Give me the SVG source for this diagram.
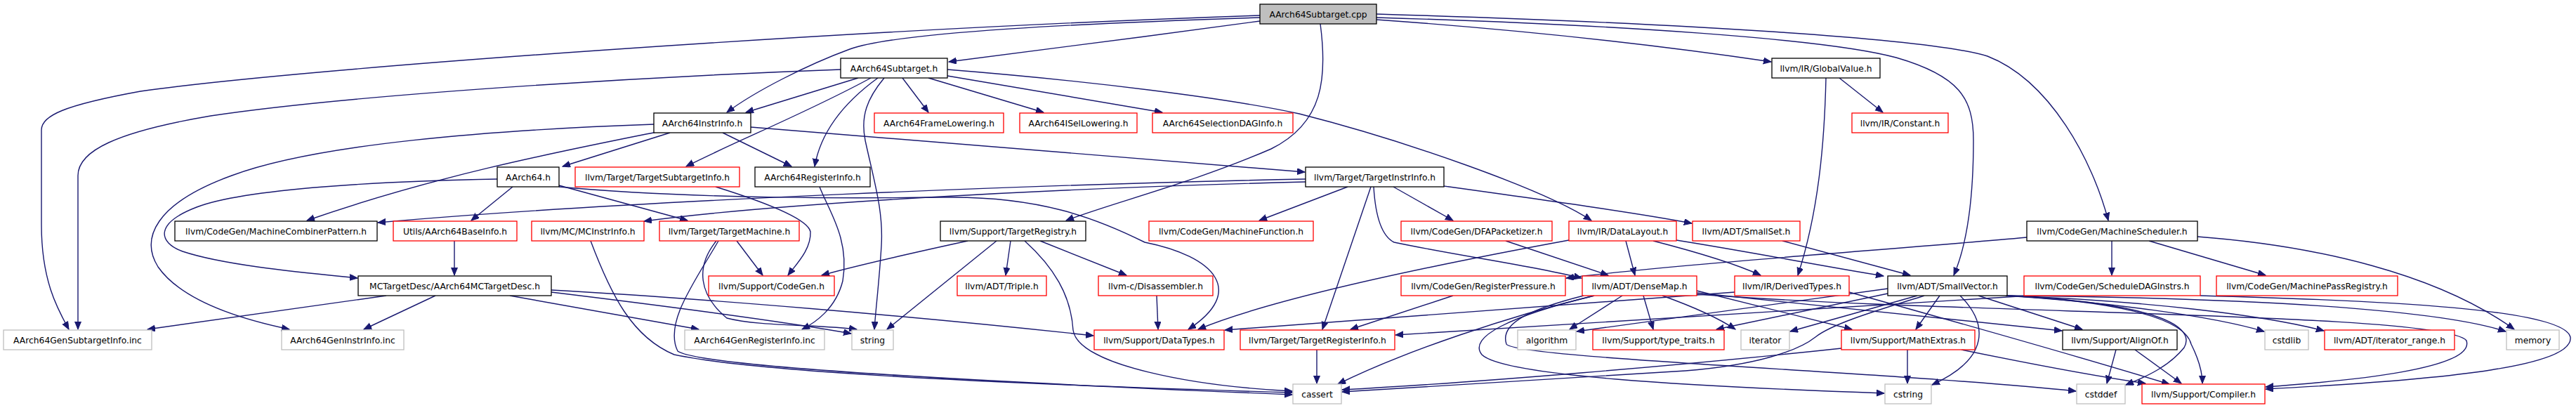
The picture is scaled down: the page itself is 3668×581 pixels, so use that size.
<svg xmlns="http://www.w3.org/2000/svg" width="3668" height="581" viewBox="0 0 3668 581">
<style>
rect{fill:#fff;stroke:#000;stroke-width:1.3}
.r rect{stroke:#ff0000}
.g rect{stroke:#bfbfbf}
.root rect{fill:#bfbfbf;stroke:#000}
text{font-family:"DejaVu Sans","Liberation Sans",sans-serif;font-size:12.3px;text-anchor:middle;fill:#000}
#edges path{fill:none;stroke:#191970;stroke-width:1.4;marker-end:url(#a)}
</style>
<defs>
<marker id="a" markerUnits="userSpaceOnUse" markerWidth="12" markerHeight="10" refX="11" refY="4.5" orient="auto"><path d="M0,0 L11,4.5 L0,9 z" fill="#191970" stroke="#191970" stroke-width="1"/></marker>
</defs>
<rect x="0" y="0" width="3668" height="581" style="fill:#fff;stroke:none"/>
<g id="edges">
<path d="M1794,30 C1650,50 1450,75 1351,88"/>
<path d="M1794,25 C1550,33 1280,45 1210,70 C1150,92 1075,130 1035,160"/>
<path d="M1794,22 C1200,42 420,98 200,130 C90,150 59,165 59,185 L59,320 C59,400 82,440 98,469"/>
<path d="M1197,99 C900,110 500,135 300,165 C165,188 111,215 111,250 L111,469"/>
<path d="M931,177 C700,185 450,205 330,250 C220,290 200,340 225,380 C260,430 345,455 412,469"/>
<path d="M708,255 C550,258 350,268 280,295 C220,318 225,345 260,358 C320,378 430,388 509,396"/>
<path d="M935,188 C800,215 620,250 437,314"/>
<path d="M954,189 L801,237"/>
<path d="M1029,189 L1127,237"/>
<path d="M1069,181 L1858,245"/>
<path d="M1222,111 L1062,160"/>
<path d="M1240,111 C1150,160 1050,200 977,237"/>
<path d="M1250,111 C1210,140 1170,180 1160,237"/>
<path d="M1285,111 L1322,160"/>
<path d="M1322,111 L1486,160"/>
<path d="M1349,108 L1655,160"/>
<path d="M1349,99 C1550,115 1750,140 1850,162 C2000,200 2200,270 2266,314"/>
<path d="M1259,111 C1235,140 1225,165 1232,200 C1245,260 1258,300 1255,350 C1252,400 1247,440 1245,469"/>
<path d="M1880,34 C1890,110 1885,175 1810,212 C1700,260 1580,290 1518,314"/>
<path d="M1960,28 C2200,45 2400,70 2522,88"/>
<path d="M1960,25 C2300,35 2600,55 2700,82 C2790,108 2810,140 2810,200 C2810,290 2800,350 2782,392"/>
<path d="M1960,20 C2400,33 2750,55 2830,80 C2920,115 2980,230 3002,314"/>
<path d="M730,266 L671,314"/>
<path d="M796,264 L979,314"/>
<path d="M796,266 C1000,285 1250,282 1350,281 C1480,280 1560,310 1630,345 C1730,365 1775,415 1692,469"/>
<path d="M1019,266 C1080,285 1150,310 1154,330 C1155,355 1135,375 1122,392"/>
<path d="M1167,266 C1180,300 1210,340 1200,400 C1190,440 1160,460 1142,469"/>
<path d="M1859,255 C1500,262 900,285 538,317"/>
<path d="M1859,259 C1500,268 1100,290 917,315"/>
<path d="M1919,266 L1793,314"/>
<path d="M1952,266 L1883,469"/>
<path d="M1956,266 C1958,300 1965,335 1985,345 C2080,365 2180,378 2252,396"/>
<path d="M1984,266 L2069,314"/>
<path d="M2056,265 C2200,285 2330,303 2409,318"/>
<path d="M2619,111 L2681,160"/>
<path d="M2600,111 C2598,200 2590,300 2560,392"/>
<path d="M647,343 L647,392"/>
<path d="M550,421 L210,469"/>
<path d="M620,421 L518,469"/>
<path d="M726,421 L995,469"/>
<path d="M785,416 C900,430 1100,455 1212,475"/>
<path d="M785,413 C1000,425 1300,450 1557,478"/>
<path d="M841,343 C870,420 900,480 960,505 C1100,535 1600,552 1840,559"/>
<path d="M1023,343 C990,400 945,460 965,500 C1000,525 1500,548 1840,562"/>
<path d="M1020,343 C990,380 995,420 1035,453 C1080,465 1170,462 1220,469"/>
<path d="M1049,343 L1086,392"/>
<path d="M1378,343 C1300,360 1220,378 1170,392"/>
<path d="M1439,343 L1432,392"/>
<path d="M1481,343 L1604,392"/>
<path d="M1419,343 L1263,469"/>
<path d="M1459,343 C1500,380 1525,420 1528,470 C1535,520 1700,550 1840,557"/>
<path d="M1647,421 L1649,469"/>
<path d="M2234,342 C2000,385 1800,430 1706,469"/>
<path d="M2315,343 L2328,392"/>
<path d="M2354,343 C2420,360 2470,375 2507,392"/>
<path d="M2387,342 C2500,360 2600,380 2682,393"/>
<path d="M2144,343 L2290,392"/>
<path d="M2538,343 L2720,392"/>
<path d="M2886,338 C2700,355 2400,375 2230,396"/>
<path d="M3007,343 L3007,392"/>
<path d="M3060,343 L3226,392"/>
<path d="M3129,337 C3300,350 3470,390 3580,469"/>
<path d="M2069,421 L1923,469"/>
<path d="M1875,498 L1875,546"/>
<path d="M2310,421 L2235,469"/>
<path d="M2340,421 L2354,469"/>
<path d="M2270,421 C2150,450 2000,500 1905,547"/>
<path d="M2367,421 C2420,440 2450,455 2471,469"/>
<path d="M2416,414 L2637,469"/>
<path d="M2416,417 L2936,471"/>
<path d="M2270,421 C2150,450 2090,480 2110,505 C2140,535 2400,550 2683,560"/>
<path d="M2255,421 C2180,440 2135,460 2145,490 C2155,510 2700,530 2956,557"/>
<path d="M2470,416 L1744,470"/>
<path d="M2633,416 C2820,468 3000,520 3089,547"/>
<path d="M2688,411 L2245,472"/>
<path d="M2688,418 L2444,469"/>
<path d="M2730,421 L2549,472"/>
<path d="M2762,421 L2728,469"/>
<path d="M2791,421 C2830,460 2835,510 2751,548"/>
<path d="M2817,421 L2965,469"/>
<path d="M2740,421 C2680,440 2610,460 2585,480 C2560,500 2500,520 2400,528 C2200,540 2000,552 1911,558"/>
<path d="M2622,496 C2400,520 2100,545 1911,555"/>
<path d="M2856,421 C3000,430 3150,450 3224,472"/>
<path d="M2856,421 C3050,428 3220,448 3309,471"/>
<path d="M2856,421 C3200,424 3470,440 3568,472"/>
<path d="M2856,421 C3000,428 3110,450 3120,490 C3130,510 3136,530 3136,546"/>
<path d="M2856,421 C3050,430 3130,460 3110,495 C3090,520 3060,535 3027,548"/>
<path d="M3013,498 L3000,546"/>
<path d="M3040,498 L3106,546"/>
<path d="M2716,498 L2716,546"/>
<path d="M2793,498 C2900,520 3000,538 3055,546"/>
<path d="M2416,419 C2800,448 3480,445 3512,485 C3525,525 3350,542 3226,551"/>
<path d="M3133,421 C3400,428 3650,440 3660,480 C3665,520 3500,540 3226,554"/>
<path d="M2890,421 L1987,477"/>
</g>
<g id="n0" class="root"><rect x="1794" y="6" width="166" height="28"/><text x="1877" y="24.5">AArch64Subtarget.cpp</text></g>
<g id="n1"><rect x="1197" y="83" width="152" height="28"/><text x="1273" y="101.5">AArch64Subtarget.h</text></g>
<g id="n2"><rect x="2523" y="83" width="154" height="28"/><text x="2600" y="101.5">llvm/IR/GlobalValue.h</text></g>
<g id="n3"><rect x="931" y="161" width="138" height="28"/><text x="1000" y="179.5">AArch64InstrInfo.h</text></g>
<g id="n4" class="r"><rect x="1245" y="161" width="184" height="28"/><text x="1337" y="179.5">AArch64FrameLowering.h</text></g>
<g id="n5" class="r"><rect x="1452" y="161" width="167" height="28"/><text x="1535.5" y="179.5">AArch64ISelLowering.h</text></g>
<g id="n6" class="r"><rect x="1641" y="161" width="200" height="28"/><text x="1741" y="179.5">AArch64SelectionDAGInfo.h</text></g>
<g id="n7" class="r"><rect x="2637" y="161" width="137" height="28"/><text x="2705.5" y="179.5">llvm/IR/Constant.h</text></g>
<g id="n8"><rect x="708" y="238" width="88" height="28"/><text x="752" y="256.5">AArch64.h</text></g>
<g id="n9" class="r"><rect x="819" y="238" width="234" height="28"/><text x="936" y="256.5">llvm/Target/TargetSubtargetInfo.h</text></g>
<g id="n10"><rect x="1075" y="238" width="164" height="28"/><text x="1157" y="256.5">AArch64RegisterInfo.h</text></g>
<g id="n11"><rect x="1859" y="238" width="197" height="28"/><text x="1957.5" y="256.5">llvm/Target/TargetInstrInfo.h</text></g>
<g id="n12"><rect x="249" y="315" width="288" height="28"/><text x="393" y="333.5">llvm/CodeGen/MachineCombinerPattern.h</text></g>
<g id="n13" class="r"><rect x="560" y="315" width="176" height="28"/><text x="648" y="333.5">Utils/AArch64BaseInfo.h</text></g>
<g id="n14" class="r"><rect x="757" y="315" width="160" height="28"/><text x="837" y="333.5">llvm/MC/MCInstrInfo.h</text></g>
<g id="n15" class="r"><rect x="939" y="315" width="199" height="28"/><text x="1038.5" y="333.5">llvm/Target/TargetMachine.h</text></g>
<g id="n16"><rect x="1339" y="315" width="207" height="28"/><text x="1442.5" y="333.5">llvm/Support/TargetRegistry.h</text></g>
<g id="n17" class="r"><rect x="1636" y="315" width="234" height="28"/><text x="1753" y="333.5">llvm/CodeGen/MachineFunction.h</text></g>
<g id="n18" class="r"><rect x="1995" y="315" width="215" height="28"/><text x="2102.5" y="333.5">llvm/CodeGen/DFAPacketizer.h</text></g>
<g id="n19" class="r"><rect x="2234" y="315" width="153" height="28"/><text x="2310.5" y="333.5">llvm/IR/DataLayout.h</text></g>
<g id="n20" class="r"><rect x="2410" y="315" width="153" height="28"/><text x="2486.5" y="333.5">llvm/ADT/SmallSet.h</text></g>
<g id="n21"><rect x="2886" y="315" width="243" height="28"/><text x="3007.5" y="333.5">llvm/CodeGen/MachineScheduler.h</text></g>
<g id="n22"><rect x="510" y="393" width="275" height="28"/><text x="647.5" y="411.5">MCTargetDesc/AArch64MCTargetDesc.h</text></g>
<g id="n23" class="r"><rect x="1009" y="393" width="179" height="28"/><text x="1098.5" y="411.5">llvm/Support/CodeGen.h</text></g>
<g id="n24" class="r"><rect x="1363" y="393" width="127" height="28"/><text x="1426.5" y="411.5">llvm/ADT/Triple.h</text></g>
<g id="n25" class="r"><rect x="1564" y="393" width="163" height="28"/><text x="1645.5" y="411.5">llvm-c/Disassembler.h</text></g>
<g id="n26" class="r"><rect x="1995" y="393" width="234" height="28"/><text x="2112" y="411.5">llvm/CodeGen/RegisterPressure.h</text></g>
<g id="n27" class="r"><rect x="2253" y="393" width="163" height="28"/><text x="2334.5" y="411.5">llvm/ADT/DenseMap.h</text></g>
<g id="n28" class="r"><rect x="2470" y="393" width="163" height="28"/><text x="2551.5" y="411.5">llvm/IR/DerivedTypes.h</text></g>
<g id="n29"><rect x="2688" y="393" width="170" height="28"/><text x="2773" y="411.5">llvm/ADT/SmallVector.h</text></g>
<g id="n30" class="r"><rect x="2882" y="393" width="251" height="28"/><text x="3007.5" y="411.5">llvm/CodeGen/ScheduleDAGInstrs.h</text></g>
<g id="n31" class="r"><rect x="3156" y="393" width="258" height="28"/><text x="3285" y="411.5">llvm/CodeGen/MachinePassRegistry.h</text></g>
<g id="n32" class="g"><rect x="5" y="470" width="211" height="28"/><text x="110.5" y="488.5">AArch64GenSubtargetInfo.inc</text></g>
<g id="n33" class="g"><rect x="401" y="470" width="174" height="28"/><text x="488" y="488.5">AArch64GenInstrInfo.inc</text></g>
<g id="n34" class="g"><rect x="975" y="470" width="199" height="28"/><text x="1074.5" y="488.5">AArch64GenRegisterInfo.inc</text></g>
<g id="n35" class="g"><rect x="1213" y="470" width="59" height="28"/><text x="1242.5" y="488.5">string</text></g>
<g id="n36" class="r"><rect x="1558" y="470" width="185" height="28"/><text x="1650.5" y="488.5">llvm/Support/DataTypes.h</text></g>
<g id="n37" class="r"><rect x="1766" y="470" width="220" height="28"/><text x="1876" y="488.5">llvm/Target/TargetRegisterInfo.h</text></g>
<g id="n38" class="g"><rect x="2161" y="470" width="83" height="28"/><text x="2202.5" y="488.5">algorithm</text></g>
<g id="n39" class="r"><rect x="2268" y="470" width="187" height="28"/><text x="2361.5" y="488.5">llvm/Support/type_traits.h</text></g>
<g id="n40" class="g"><rect x="2479" y="470" width="69" height="28"/><text x="2513.5" y="488.5">iterator</text></g>
<g id="n41" class="r"><rect x="2622" y="470" width="190" height="28"/><text x="2717" y="488.5">llvm/Support/MathExtras.h</text></g>
<g id="n42"><rect x="2937" y="470" width="163" height="28"/><text x="3018.5" y="488.5">llvm/Support/AlignOf.h</text></g>
<g id="n43" class="g"><rect x="3225" y="470" width="62" height="28"/><text x="3256" y="488.5">cstdlib</text></g>
<g id="n44" class="r"><rect x="3310" y="470" width="185" height="28"/><text x="3402.5" y="488.5">llvm/ADT/iterator_range.h</text></g>
<g id="n45" class="g"><rect x="3569" y="470" width="75" height="28"/><text x="3606.5" y="488.5">memory</text></g>
<g id="n46" class="g"><rect x="1841" y="547" width="69" height="28"/><text x="1875.5" y="565.5">cassert</text></g>
<g id="n47" class="g"><rect x="2684" y="547" width="66" height="28"/><text x="2717" y="565.5">cstring</text></g>
<g id="n48" class="g"><rect x="2957" y="547" width="69" height="28"/><text x="2991.5" y="565.5">cstddef</text></g>
<g id="n49" class="r"><rect x="3050" y="547" width="175" height="28"/><text x="3137.5" y="565.5">llvm/Support/Compiler.h</text></g>
</svg>
